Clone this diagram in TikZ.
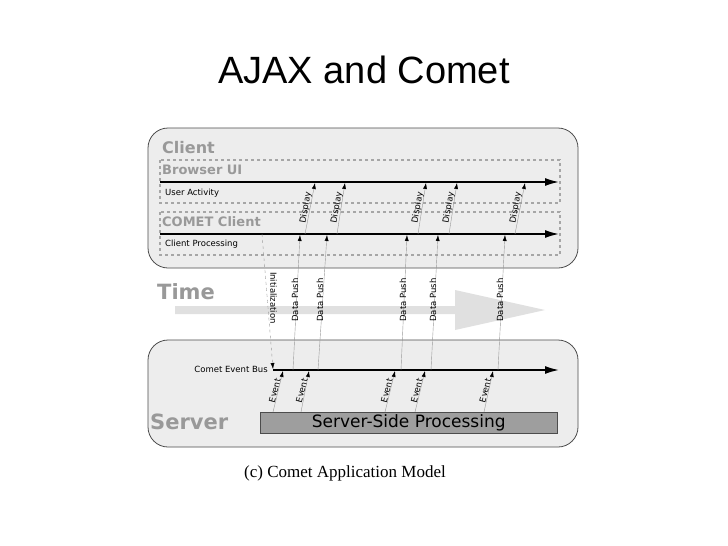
\documentclass[tikz,border=0pt]{standalone}
\usepackage{fontspec}
\setmainfont{DejaVu Sans}
\newfontfamily\titlefont{Liberation Sans}
\newfontfamily\capfont{Liberation Serif}
\usetikzlibrary{arrows.meta,calc}
\definecolor{boxfill}{HTML}{EDEDED}
\definecolor{lbl}{HTML}{999999}
\tikzset{
  x=1pt,y=-1pt,
  bigbox/.style={draw=black!70,line width=0.8pt,fill=boxfill,rounded corners=20pt},
  dbox/.style={draw=black!35,dashed,line width=1.2pt},
  tline/.style={line width=1.6pt,-{Latex[length=14pt,width=8pt]}},
  sarr/.style={draw=black!40,line width=0.4pt,-{Latex[length=6pt,width=4pt,black]}},
  head/.style={font=\bfseries\fontsize{16}{16}\selectfont,text=lbl,anchor=west,inner sep=0pt},
  small/.style={font=\fontsize{8.5}{8.5}\selectfont,inner sep=0pt},
}
\begin{document}
\begin{tikzpicture}
\useasboundingbox[fill=white] (0,0) rectangle (728,546);
\node[font=\titlefont\fontsize{38}{38}\selectfont] (title) at (364,70) {AJAX and Comet};
% client
\path[bigbox] (148,128) rectangle (578,268);
\node[head] (client) at (162,148) {Client};
\path[dbox] (160,160) rectangle (560,203);
\node[head,font=\bfseries\fontsize{13}{13}\selectfont] (bui) at (162,170) {Browser UI};
\coordinate (b0) at (160,182); \coordinate (b1) at (559,182);
\draw[tline] (b0) -- (b1);
\node[small,anchor=west] (ua) at (165,193) {User Activity};
\path[dbox] (160,212) rectangle (560,255);
\node[head,font=\bfseries\fontsize{13}{13}\selectfont] (cc) at (162,222) {COMET Client};
\coordinate (c0) at (160,234); \coordinate (c1) at (559,234);
\draw[tline] (c0) -- (c1);
\node[small,anchor=west] (cp) at (165,244) {Client Processing};
% display arrows
\foreach \xb/\xt [count=\i] in {305/315,337/345,418/426,449/457,515/525}{
  \coordinate (db\i) at (\xb,234); \coordinate (dt\i) at (\xt,183);
  \draw[sarr] (db\i) -- (dt\i);
  \node[small,rotate=80,anchor=south] at ($(db\i)!0.5!(dt\i)$) {Display};
}
% time
\node[head,font=\bfseries\fontsize{21}{21}\selectfont] (time) at (157,292) {Time};
\fill[black!12] (175,306) -- (455,306) -- (455,290) -- (545,310) -- (455,330) -- (455,314) -- (175,314) -- cycle;
% server
\path[bigbox] (148,340) rectangle (578,447);
\node[head,font=\bfseries\fontsize{21}{21}\selectfont] (server) at (150,422) {Server};
\node[draw=black!70,fill=black!38,minimum width=297pt,minimum height=21pt,anchor=north west,inner sep=0pt,font=\fontsize{17}{17}\selectfont] (ssp) at (260,412) {Server-Side Processing};
\node[small,anchor=east] (ceb) at (268,369) {Comet Event Bus};
\coordinate (e0) at (273,370); \coordinate (e1) at (559,370);
\draw[tline] (e0) -- (e1);
% data push
\foreach \xb/\xt [count=\i] in {293/300,318/327,401/407,431/438,498/505}{
  \coordinate (pb\i) at (\xb,370); \coordinate (pt\i) at (\xt,235);
  \draw[sarr] (pb\i) -- (pt\i);
  \node[small,rotate=90,anchor=south] at (\xb+5.5,300) {Data Push};
}
% initialization
\coordinate (i0) at (262,234); \coordinate (i1) at (273,369);
\draw[sarr,dashed] (i0) -- (i1);
\node[small,rotate=-90,anchor=south] at (270,298) {Initialization};
% events
\foreach \xb/\xt [count=\i] in {273/283,301/309,385/395,415/425,484/493}{
  \coordinate (vb\i) at (\xb,412); \coordinate (vt\i) at (\xt,371);
  \draw[sarr] (vb\i) -- (vt\i);
  \node[small,rotate=75,anchor=south] at ($(vb\i)!0.5!(vt\i)$) {Event};
}
\node[font=\capfont\fontsize{17}{17}\selectfont] (cap) at (345,473) {(c) Comet Application Model};
\end{tikzpicture}
\end{document}
